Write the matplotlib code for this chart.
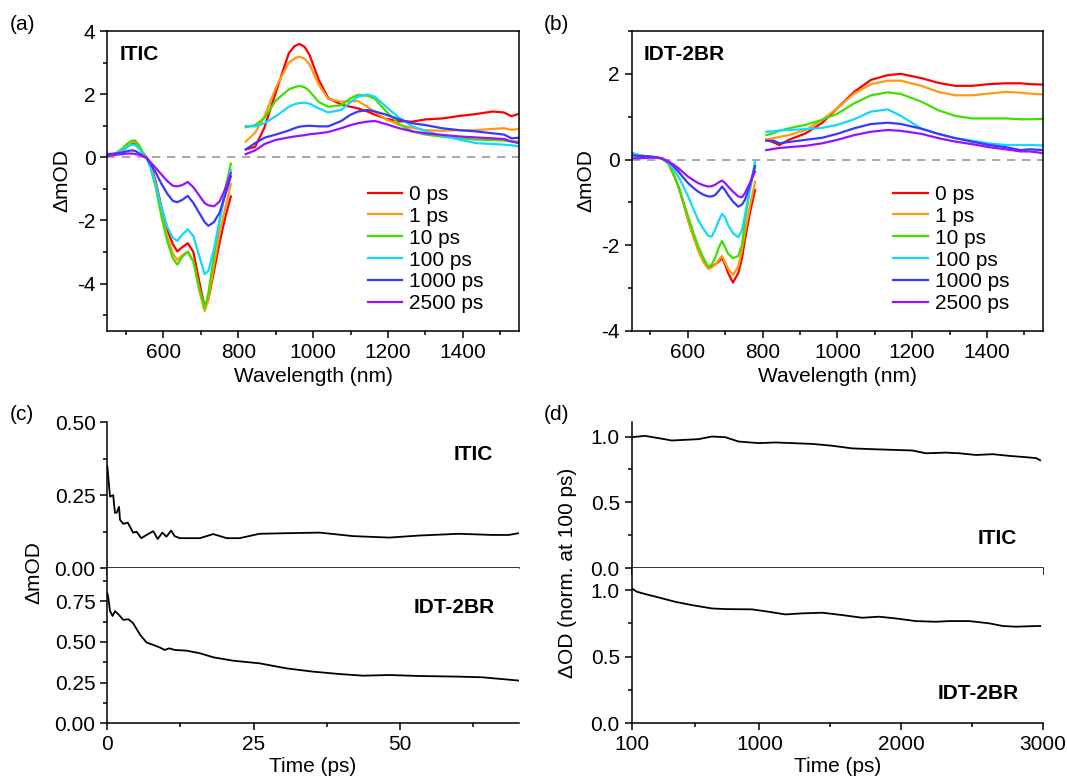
import matplotlib
matplotlib.use('Agg')
import matplotlib.pyplot as plt
from matplotlib.ticker import MultipleLocator, FormatStrFormatter

plt.rcParams['font.family'] = ['Liberation Sans', 'DejaVu Sans']
plt.rcParams['axes.unicode_minus'] = False
plt.rcParams['font.size'] = 15

delays = ['0 ps', '1 ps', '10 ps', '100 ps', '1000 ps', '2500 ps']
colors = ['#ff0000', '#ff9a10', '#3ee000', '#10d8ff', '#3838ff', '#9a10ff']

# ---- (a) ITIC spectra ----
itic_wl_vis = [450, 470, 490, 505, 515, 525, 535, 545, 555, 565, 580, 595, 610,
               625, 637, 650, 665, 680, 695, 710, 720, 735, 750, 765, 780]
itic_vis = [
    [0.05, 0.08, 0.2, 0.35, 0.42, 0.42, 0.3, 0.12, 0.0, -0.2, -0.8, -1.6, -2.3,
     -2.75, -2.98, -2.85, -2.72, -3.0, -3.9, -4.75, -4.5, -3.6, -2.7, -1.9, -1.24],
    [0.05, 0.1, 0.25, 0.4, 0.48, 0.48, 0.35, 0.15, 0.0, -0.25, -0.9, -1.8, -2.5,
     -3.05, -3.25, -3.1, -2.98, -3.3, -4.2, -4.87, -4.5, -3.4, -2.4, -1.6, -0.85],
    [0.05, 0.1, 0.28, 0.45, 0.53, 0.53, 0.38, 0.15, 0.0, -0.3, -1.0, -1.9, -2.65,
     -3.2, -3.4, -3.15, -3.0, -3.3, -4.1, -4.78, -4.3, -3.1, -2.0, -1.0, -0.2],
    [0.05, 0.08, 0.22, 0.35, 0.4, 0.38, 0.27, 0.1, -0.02, -0.3, -0.9, -1.6, -2.2,
     -2.55, -2.65, -2.45, -2.28, -2.5, -3.1, -3.7, -3.6, -2.9, -2.0, -1.1, -0.4],
    [0.1, 0.12, 0.15, 0.2, 0.22, 0.2, 0.12, 0.05, -0.03, -0.2, -0.5, -0.85, -1.15,
     -1.38, -1.42, -1.35, -1.22, -1.45, -1.75, -2.05, -2.17, -2.05, -1.75, -1.2, -0.6],
    [0.05, 0.08, 0.1, 0.12, 0.12, 0.1, 0.08, 0.04, -0.02, -0.15, -0.35, -0.55, -0.75,
     -0.9, -0.92, -0.88, -0.78, -0.95, -1.2, -1.45, -1.52, -1.55, -1.4, -1.0, -0.5],
]
itic_wl_nir = [820, 845, 870, 900, 935, 950, 963, 977, 990, 1015, 1040, 1075, 1100, 1120,
               1145, 1165, 1195, 1230, 1265, 1300, 1345, 1390, 1435, 1480, 1510, 1530, 1550]
itic_nir = [
    [0.25, 0.33, 0.95, 2.05, 3.3, 3.52, 3.59, 3.5, 3.25, 2.45, 1.88, 1.67, 1.6, 1.55,
     1.45, 1.35, 1.22, 1.14, 1.13, 1.2, 1.23, 1.31, 1.37, 1.45, 1.42, 1.3, 1.38],
    [0.5, 0.78, 1.3, 2.2, 3.0, 3.13, 3.19, 3.12, 2.95, 2.3, 1.85, 1.76, 1.78, 1.78,
     1.6, 1.44, 1.2, 1.03, 0.93, 0.86, 0.84, 0.86, 0.86, 0.9, 0.92, 0.87, 0.9],
    [0.95, 1.02, 1.25, 1.8, 2.15, 2.22, 2.26, 2.22, 2.1, 1.75, 1.6, 1.65, 1.87, 1.98,
     1.95, 1.85, 1.45, 1.05, 0.82, 0.72, 0.65, 0.6, 0.56, 0.55, 0.53, 0.5, 0.5],
    [0.99, 0.98, 1.08, 1.3, 1.6, 1.68, 1.72, 1.73, 1.7, 1.55, 1.42, 1.5, 1.75, 1.92,
     1.99, 1.92, 1.6, 1.25, 0.98, 0.83, 0.68, 0.56, 0.45, 0.42, 0.4, 0.38, 0.35],
    [0.25, 0.45, 0.62, 0.72, 0.85, 0.92, 0.97, 0.99, 1.0, 0.98, 0.98, 1.15, 1.35, 1.45,
     1.5, 1.45, 1.35, 1.2, 1.08, 1.02, 0.92, 0.86, 0.82, 0.76, 0.72, 0.6, 0.62],
    [0.1, 0.22, 0.42, 0.55, 0.63, 0.66, 0.68, 0.7, 0.73, 0.76, 0.8, 0.92, 1.02, 1.08,
     1.13, 1.15, 1.05, 0.92, 0.82, 0.76, 0.71, 0.66, 0.63, 0.6, 0.58, 0.5, 0.45],
]

# ---- (b) IDT-2BR spectra ----
idt_wl_vis = [450, 470, 490, 510, 530, 548, 562, 575, 588, 601, 615, 628, 642,
              655, 664, 673, 683, 692, 700, 708, 721, 735, 745, 753, 766, 780]
idt_vis = [
    [0.15, 0.1, 0.07, 0.05, 0.03, -0.09, -0.35, -0.63, -1.0, -1.41, -1.78, -2.1, -2.38,
     -2.5, -2.5, -2.45, -2.38, -2.3, -2.45, -2.65, -2.87, -2.65, -2.3, -1.87, -1.25, -0.71],
    [0.15, 0.1, 0.07, 0.05, 0.03, -0.09, -0.35, -0.63, -1.0, -1.41, -1.8, -2.12, -2.4,
     -2.55, -2.52, -2.45, -2.35, -2.25, -2.4, -2.55, -2.69, -2.5, -2.1, -1.7, -1.1, -0.52],
    [0.15, 0.1, 0.08, 0.06, 0.03, -0.09, -0.33, -0.63, -0.98, -1.33, -1.7, -2.03, -2.3,
     -2.5, -2.45, -2.3, -2.05, -1.9, -2.05, -2.2, -2.3, -2.25, -2.0, -1.41, -0.71, -0.13],
    [0.15, 0.1, 0.07, 0.05, 0.03, -0.07, -0.22, -0.4, -0.62, -0.86, -1.15, -1.41, -1.62,
     -1.78, -1.8, -1.64, -1.42, -1.27, -1.35, -1.53, -1.72, -1.81, -1.64, -1.3, -0.7, -0.03],
    [0.1, 0.08, 0.08, 0.06, 0.03, -0.05, -0.15, -0.28, -0.42, -0.55, -0.66, -0.75, -0.82,
     -0.86, -0.86, -0.83, -0.73, -0.63, -0.72, -0.83, -0.98, -1.1, -1.05, -0.94, -0.6, -0.16],
    [0.03, 0.03, 0.04, 0.05, 0.03, -0.04, -0.12, -0.2, -0.3, -0.4, -0.48, -0.55, -0.6,
     -0.63, -0.62, -0.59, -0.53, -0.49, -0.55, -0.63, -0.75, -0.86, -0.88, -0.78, -0.55, -0.28],
]
idt_wl_nir = [810, 830, 845, 870, 915, 960, 1000, 1045, 1090, 1135,
              1170, 1225, 1270, 1315, 1360, 1405, 1450, 1490, 1515, 1550]
idt_nir = [
    [0.46, 0.4, 0.34, 0.46, 0.61, 0.86, 1.2, 1.58, 1.86, 1.97,
     2.0, 1.9, 1.79, 1.72, 1.72, 1.76, 1.78, 1.78, 1.76, 1.75],
    [0.47, 0.5, 0.53, 0.57, 0.69, 0.93, 1.2, 1.54, 1.76, 1.84,
     1.84, 1.72, 1.58, 1.5, 1.5, 1.54, 1.58, 1.56, 1.54, 1.52],
    [0.57, 0.62, 0.67, 0.73, 0.81, 0.93, 1.07, 1.31, 1.5, 1.57,
     1.53, 1.35, 1.15, 1.02, 0.96, 0.96, 0.96, 0.94, 0.94, 0.95],
    [0.65, 0.66, 0.68, 0.69, 0.71, 0.74, 0.81, 0.94, 1.12, 1.17,
     1.02, 0.72, 0.6, 0.5, 0.44, 0.38, 0.34, 0.34, 0.34, 0.33],
    [0.44, 0.44, 0.38, 0.41, 0.46, 0.51, 0.6, 0.73, 0.83, 0.86,
     0.83, 0.72, 0.6, 0.5, 0.42, 0.34, 0.29, 0.22, 0.24, 0.22],
    [0.22, 0.25, 0.27, 0.29, 0.32, 0.38, 0.46, 0.57, 0.65, 0.69,
     0.67, 0.6, 0.5, 0.42, 0.36, 0.29, 0.24, 0.19, 0.19, 0.15],
]

# ---- (c) early kinetics (ps) ----
t_itic_early = [0, 0.46, 1.0, 1.3, 1.6, 2.0, 2.16, 2.73, 3.5, 4.4, 5.0, 5.8, 6.7,
                7.85, 8.6, 9.4, 10.1, 10.9, 11.5, 12.4, 15.8, 18.1, 20.4, 22.6,
                26.0, 30.6, 36.3, 42.0, 48.2, 53.3, 60.1, 65.8, 68.6, 70.3]
itic_early = [0.348, 0.245, 0.25, 0.19, 0.19, 0.21, 0.166, 0.152, 0.156, 0.122, 0.125, 0.103, 0.114,
              0.127, 0.1, 0.122, 0.108, 0.129, 0.11, 0.103, 0.103, 0.117, 0.103, 0.103,
              0.118, 0.12, 0.122, 0.11, 0.105, 0.112, 0.118, 0.114, 0.114, 0.12]
t_idt_early = [0, 0.17, 0.46, 0.9, 1.3, 1.9, 2.73, 3.6, 4.4, 5.6, 6.7, 7.85, 8.98, 9.8,
               10.6, 11.5, 13.5, 15.8, 18.1, 21.5, 26.0, 30.6, 35.1, 39.7, 43.7,
               48.2, 53.3, 60.1, 64.1, 70.3]
idt_early = [0.8, 0.77, 0.69, 0.66, 0.69, 0.67, 0.636, 0.64, 0.616, 0.544, 0.497, 0.482, 0.466, 0.451,
             0.461, 0.451, 0.447, 0.431, 0.406, 0.385, 0.369, 0.338, 0.318, 0.303, 0.293,
             0.297, 0.291, 0.287, 0.283, 0.263]

# ---- (d) late kinetics, normalized at 100 ps ----
t_itic_late = [100, 194, 288, 383, 477, 571, 665, 760, 854, 995, 1113, 1231, 1373,
               1514, 1655, 1797, 1938, 2080, 2174, 2316, 2410, 2528, 2646, 2764, 2882, 2953, 2980]
itic_late = [0.995, 1.005, 0.988, 0.97, 0.975, 0.98, 1.0, 0.995, 0.962, 0.95, 0.955, 0.95, 0.944,
             0.93, 0.91, 0.904, 0.899, 0.894, 0.873, 0.878, 0.873, 0.86, 0.866, 0.853, 0.843, 0.836, 0.82]
t_idt_late = [100, 135, 194, 288, 406, 524, 665, 760, 948, 1066, 1184, 1302, 1443,
              1585, 1726, 1844, 1962, 2104, 2245, 2339, 2481, 2622, 2717, 2811, 2953, 2980]
idt_late = [1.013, 0.988, 0.97, 0.945, 0.912, 0.887, 0.862, 0.857, 0.855, 0.837, 0.817, 0.825, 0.83,
            0.812, 0.792, 0.8, 0.787, 0.767, 0.762, 0.767, 0.767, 0.75, 0.73, 0.725, 0.73, 0.73]

fig = plt.figure(figsize=(10.67, 7.83), dpi=100)


def style_ax(ax):
    ax.tick_params(which='both', direction='out', width=1.1, labelsize=15)
    ax.tick_params(which='major', length=5)
    ax.tick_params(which='minor', length=3)
    for s in ax.spines.values():
        s.set_linewidth(1.1)


def spectra_panel(rect, wl_vis, vis, wl_nir, nir, name, ylim, ymaj, leg_x):
    ax = fig.add_axes(rect)
    for k in range(len(delays)):
        ax.plot(wl_vis, vis[k], color=colors[k], lw=1.6, label=delays[k])
        ax.plot(wl_nir, nir[k], color=colors[k], lw=1.6)
    ax.axhline(0, color='#999999', lw=1.2, ls=(0, (5, 4)), zorder=0)
    ax.set_xlim(450, 1550)
    ax.set_ylim(*ylim)
    ax.set_yticks(ymaj)
    ax.yaxis.set_minor_locator(MultipleLocator(1))
    ax.xaxis.set_major_locator(MultipleLocator(200))
    ax.xaxis.set_minor_locator(MultipleLocator(100))
    ax.set_xlabel('Wavelength (nm)', fontsize=15)
    ax.set_ylabel('ΔmOD', fontsize=15, labelpad=4)
    ax.text(0.03, 0.923, name, transform=ax.transAxes, fontsize=15,
            fontweight='bold', ha='left', va='center')
    ax.legend(loc='upper left', bbox_to_anchor=(leg_x, 0.515), frameon=False,
              fontsize=15, handlelength=1.65, handletextpad=0.35,
              labelspacing=0.14, borderaxespad=0)
    style_ax(ax)
    return ax


spectra_panel([0.1006, 0.5773, 0.3858, 0.3831], itic_wl_vis, itic_vis,
              itic_wl_nir, itic_nir, 'ITIC', (-5.5, 4), [-4, -2, 0, 2, 4], 0.612)
spectra_panel([0.592, 0.5773, 0.3855, 0.3831], idt_wl_vis, idt_vis,
              idt_wl_nir, idt_nir, 'IDT-2BR', (-4, 3), [-4, -2, 0, 2], 0.616)


def kinetics_panel(left, t1, y1, t2, y2, xlim, xmaj, xmin_, lims, fmt,
                   ymaj, ymin_, ylab, labpos):
    width = 0.3855
    ax_top = fig.add_axes([left, 0.2742, width, 0.1868])
    ax_bot = fig.add_axes([left, 0.0762, width, 0.198], sharex=ax_top)
    for ax, t, y, lim, ym, yn, name, pos in [
            (ax_top, t1, y1, lims[0], ymaj[0], ymin_[0], 'ITIC', labpos[0]),
            (ax_bot, t2, y2, lims[1], ymaj[1], ymin_[1], 'IDT-2BR', labpos[1])]:
        ax.plot(t, y, color='black', lw=1.3)
        ax.set_ylim(*lim)
        ax.yaxis.set_major_locator(MultipleLocator(ym))
        ax.yaxis.set_minor_locator(MultipleLocator(yn))
        ax.yaxis.set_major_formatter(FormatStrFormatter(fmt))
        ax.spines['top'].set_visible(False)
        ax.spines['right'].set_visible(False)
        ax.text(pos[0], pos[1], name, transform=ax.transAxes, fontsize=15,
                fontweight='bold', ha='right', va='center')
        style_ax(ax)
    ax_top.set_xlim(*xlim)
    ax_top.set_xticks(xmaj)
    ax_top.xaxis.set_minor_locator(MultipleLocator(xmin_))
    ax_top.tick_params(axis='x', labelbottom=False)
    ax_bot.set_xlabel('Time (ps)', fontsize=15, labelpad=2)
    fig.text(ylab[0], 0.2685, ylab[1], rotation=90, fontsize=15,
             ha='center', va='center')
    return ax_top, ax_bot


kinetics_panel(0.1006, t_itic_early, itic_early, t_idt_early, idt_early,
               (0, 70.3), [0, 25, 50], 12.5, [(0, 0.5), (0, 0.953)], '%.2f',
               [0.25, 0.25], [0.125, 0.125], (0.032, 'ΔmOD'),
               [(0.937, 0.775), (0.942, 0.744)])
ax_d_top, ax_d_bot = kinetics_panel(
    0.592, t_itic_late, itic_late, t_idt_late, idt_late,
    (100, 3000), [100, 1000, 2000, 3000], 500, [(0, 1.11), (0, 1.163)], '%.1f',
    [0.5, 0.5], [0.25, 0.25], (0.532, 'ΔOD (norm. at 100 ps)'),
    [(0.938, 0.205), (0.94, 0.19)])
ax_d_top.set_xticks([550, 1500, 2500], minor=True)

# panel letters
for x, y, s in [(0.009, 0.969, '(a)'), (0.51, 0.969, '(b)'),
                (0.009, 0.47, '(c)'), (0.51, 0.47, '(d)')]:
    fig.text(x, y, s, fontsize=15, ha='left', va='center')

plt.savefig('out.png', dpi=100)
plt.close()
